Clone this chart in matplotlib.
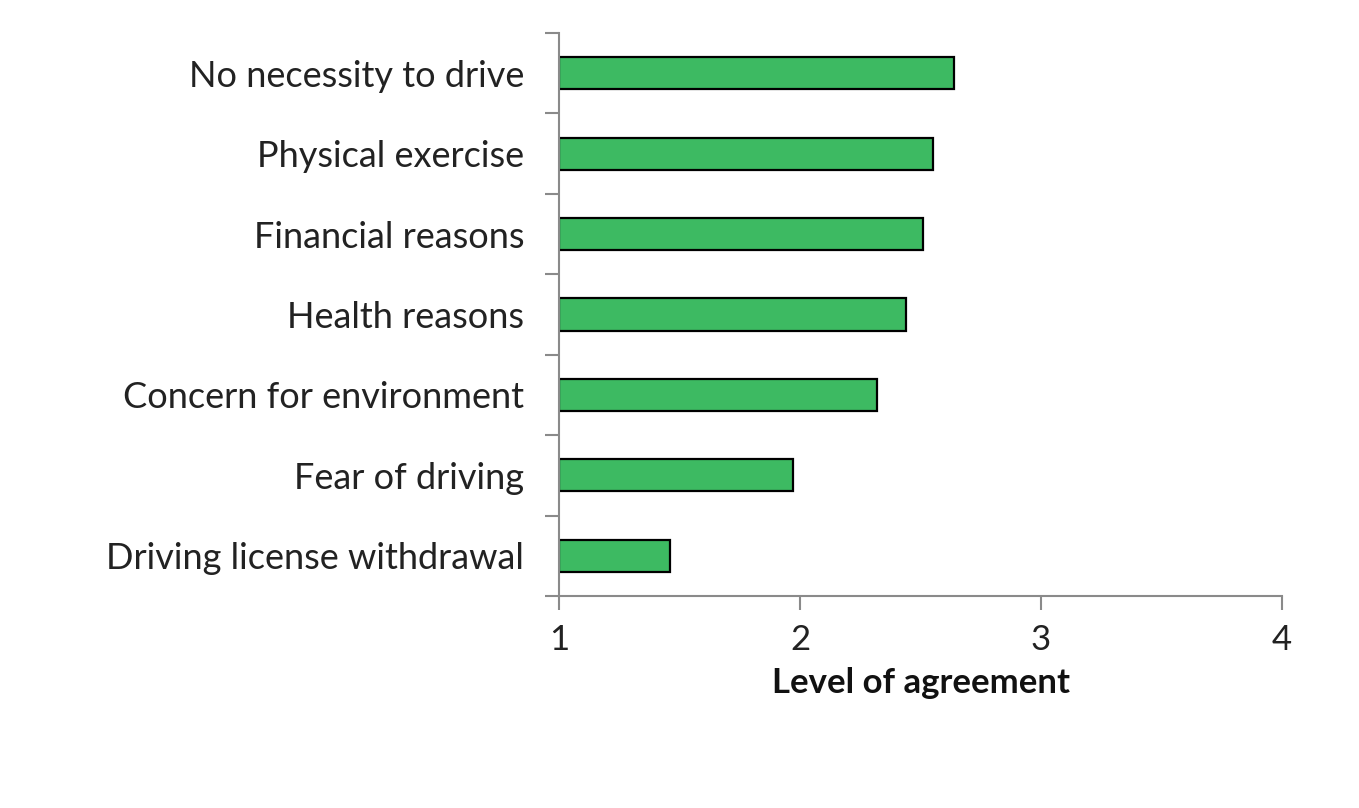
import matplotlib
matplotlib.use("Agg")
import matplotlib.pyplot as plt

categories = ["No necessity to drive", "Physical exercise", "Financial reasons",
              "Health reasons", "Concern for environment", "Fear of driving",
              "Driving license withdrawal"]
values = [2.64, 2.55, 2.51, 2.44, 2.32, 1.97, 1.46]
xticks = [1, 2, 3, 4]

plt.rcParams['font.family'] = ['Lato', 'DejaVu Sans']

fig = plt.figure(figsize=(13.59, 8.08), dpi=100)
ax = fig.add_axes([559/1359, 1 - 596/808, 723/1359, 563/808])

y = list(range(len(categories)))[::-1]
ax.barh(y, [v - 1 for v in values], left=1, height=0.4, color="#3dba62",
        edgecolor="black", linewidth=1.6)

ax.set_xlim(1, 4)
ax.set_ylim(-0.5, len(categories) - 0.5)
ax.set_xticks(xticks)
ax.set_xticklabels([str(t) for t in xticks], fontsize=25, color="#222222")
ax.set_yticks([i - 0.5 for i in range(len(categories) + 1)])
ax.set_yticklabels([])
ax.set_yticks(y, minor=True)
ax.set_yticklabels(categories, minor=True, fontsize=26, color="#222222")
ax.tick_params(axis='y', which='minor', length=0, pad=25)
ax.tick_params(axis='y', which='major', length=10, color="#8a8a8a", width=1.5)
ax.tick_params(axis='x', length=10, color="#8a8a8a", width=1.5, pad=10)

for s in ["top", "right"]:
    ax.spines[s].set_visible(False)
for s in ["left", "bottom"]:
    ax.spines[s].set_color("#8a8a8a")
    ax.spines[s].set_linewidth(1.5)

ax.set_xlabel("Level of agreement", fontsize=25, fontweight="bold", labelpad=8, color="#111111")

fig.savefig("out.png", dpi=100)
